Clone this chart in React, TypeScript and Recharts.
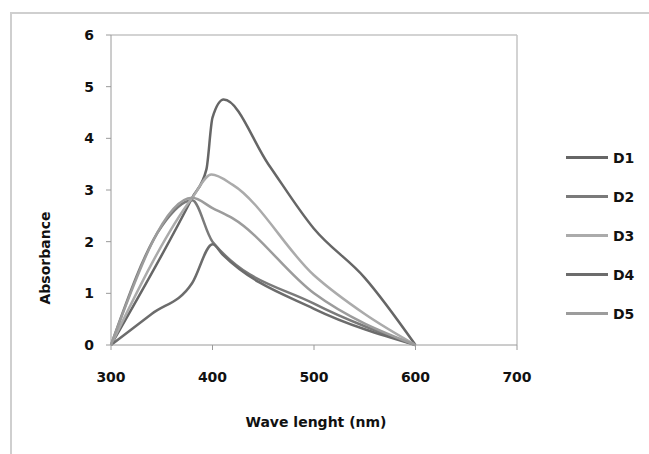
import { LineChart, Line, XAxis, YAxis, ReferenceLine } from 'recharts'

// wavelengths (nm) and absorbance, one pair of arrays per sample
const d1Wave = [300, 380, 394, 400, 411, 455, 500, 550, 600]
const d1Abs = [0, 2.85, 3.4, 4.4, 4.75, 3.5, 2.25, 1.3, 0]

const d2Wave = [300, 350, 380, 400, 500, 600]
const d2Abs = [0, 2.3, 2.8, 2.0, 0.8, 0]

const d3Wave = [300, 380, 399, 420, 500, 550, 600]
const d3Abs = [0, 2.85, 3.3, 3.1, 1.35, 0.6, 0]

const d4Wave = [300, 340, 380, 400, 410, 500, 600]
const d4Abs = [0, 0.6, 1.2, 1.95, 1.75, 0.7, 0]

const d5Wave = [300, 380, 400, 420, 500, 600]
const d5Abs = [0, 2.85, 2.65, 2.45, 1.0, 0]

const xTicks = [300, 400, 500, 600, 700]
const yTicks = [0, 1, 2, 3, 4, 5, 6]

const toPoints = (wave: number[], abs: number[]) => wave.map((w, i) => ({ wave: w, abs: abs[i] }))

const series = [
  { name: 'D1', color: '#666666', data: toPoints(d1Wave, d1Abs) },
  { name: 'D2', color: '#7a7a7a', data: toPoints(d2Wave, d2Abs) },
  { name: 'D3', color: '#ababab', data: toPoints(d3Wave, d3Abs) },
  { name: 'D4', color: '#6c6c6c', data: toPoints(d4Wave, d4Abs) },
  { name: 'D5', color: '#9c9c9c', data: toPoints(d5Wave, d5Abs) },
]

const font = '"DejaVu Sans", sans-serif'
const tickStyle = { fill: '#111', fontSize: 14, fontWeight: 700, fontFamily: font }

function SideLegend() {
  return (
    <div style={{ position: 'absolute', left: 566, top: 138, fontFamily: font }}>
      {series.map(s => (
        <div key={s.name} style={{ display: 'flex', alignItems: 'center', height: 39 }}>
          <div style={{ width: 42, height: 3, background: s.color, marginRight: 5 }} />
          <span style={{ fontSize: 14, fontWeight: 700, color: '#111' }}>{s.name}</span>
        </div>
      ))}
    </div>
  )
}

export default function App() {
  return (
    <div style={{ position: 'absolute', left: 0, top: 0, width: 649, height: 454, background: '#fff' }}>
      <div style={{ position: 'absolute', left: 10, top: 12, right: 0, bottom: 0, borderTop: '2px solid #cfcfcf', borderLeft: '2px solid #cfcfcf' }} />
      <LineChart width={649} height={454} margin={{ top: 35, right: 132, left: 0, bottom: 0 }}>
        <XAxis
          type="number"
          dataKey="wave"
          domain={[300, 700]}
          ticks={xTicks}
          height={109}
          stroke="#9a9a9a"
          tickSize={5}
          tickMargin={22}
          tick={tickStyle}
          label={() => (
            <text x={316} y={427} textAnchor="middle" fill="#111" fontSize={14} fontWeight={700} fontFamily={font}>
              Wave lenght (nm)
            </text>
          )}
        />
        <YAxis
          type="number"
          dataKey="abs"
          domain={[0, 6]}
          ticks={yTicks}
          width={111}
          stroke="#9a9a9a"
          tickSize={5}
          tickMargin={12}
          tick={tickStyle}
          label={() => (
            <text x={50} y={258} transform="rotate(-90 50 258)" textAnchor="middle" fill="#111" fontSize={14} fontWeight={700} fontFamily={font}>
              Absorbance
            </text>
          )}
        />
        <ReferenceLine y={6} stroke="#c4c4c4" strokeWidth={1.5} />
        <ReferenceLine x={700} stroke="#c4c4c4" strokeWidth={1.5} />
        {series.map(s => (
          <Line
            key={s.name}
            data={s.data}
            dataKey="abs"
            name={s.name}
            type="monotone"
            stroke={s.color}
            strokeWidth={2.5}
            dot={false}
            isAnimationActive={false}
          />
        ))}
      </LineChart>
      <SideLegend />
    </div>
  )
}
